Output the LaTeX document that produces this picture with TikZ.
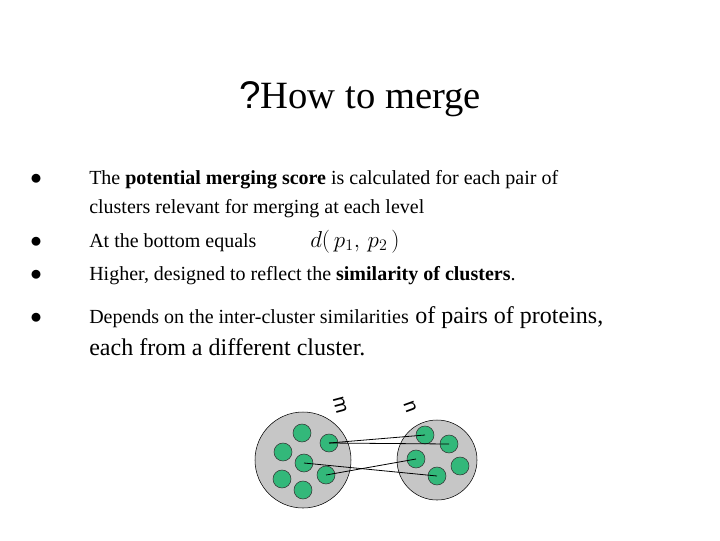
\documentclass[tikz,border=0pt]{standalone}
\usepackage{fontspec}
\setmainfont{Liberation Serif}
\newfontfamily\serifr{Liberation Serif}
\newfontfamily\sansq{Liberation Sans}
\begin{document}
\begin{tikzpicture}[x=0.75pt,y=-0.75pt,
  txt/.style={anchor=base west,inner sep=0pt,font=\serifr\fontsize{15}{18}\selectfont},
  big/.style={anchor=base west,inner sep=0pt,scale=1.2,font=\serifr\fontsize{15}{18}\selectfont},
  clus/.style={circle,draw=black,fill=gray!45,inner sep=0pt},
  prot/.style={circle,draw=black!80,fill=teal!70!green!80,minimum size=13.5pt,inner sep=0pt},
  link/.style={black,line width=0.6pt}]
\useasboundingbox (0,0) rectangle (720,540);
\node[anchor=base,inner sep=0pt,scale=1.93,font=\fontsize{15}{18}\selectfont] (title) at (360,108) {{\sansq ?}\serifr How to merge};
\foreach \y/\n in {184/b1,247/b2,280/b3,323/b4}{\node[txt,scale=1.2] (\n) at (30,\y) {$\bullet$};}
\node[txt] (t1) at (89,184) {The \textbf{potential merging score} is calculated for each pair of};
\node[txt] (t1b) at (89,213) {clusters relevant for merging at each level};
\node[txt] (t2) at (89,247) {At the bottom equals};
\node[anchor=base west,inner sep=0pt,font=\fontsize{17}{20}\selectfont] (f) at (310,247) {$d(\,p_1,\,p_2\,)$};
\node[txt] (t3) at (89,280) {Higher, designed to reflect the \textbf{similarity of clusters}.};
\node[txt] (t4) at (89,323) {Depends on the inter-cluster similarities};
\node[big] (t4c) at (t4.base east) {\ of pairs of proteins,};
\node[big] (t4b) at (89,355) {each from a different cluster.};
\node[clus,minimum size=72pt] (L) at (303,460) {};
\node[clus,minimum size=60pt] (R) at (437,460) {};
\node[rotate=-75,font=\sansq\fontsize{15}{18}\selectfont] (m) at (340,405) {m};
\node[rotate=-70,font=\sansq\fontsize{15}{18}\selectfont] (n) at (410,407) {n};
\foreach \p/\x/\y in {l1/302/433,l2/283/452,l3/329/443,l4/304/463,l5/282/479,l6/326/475,l7/303/490,
  r1/425/435,r2/449/444,r3/416/459,r4/460/466,r5/437/476}{\node[prot] (\p) at (\x,\y) {};}
\draw[link] (l3.center) -- (r1.center);
\draw[link] (l3.center) -- (r2.center);
\draw[link] (l4.center) -- (r5.center);
\draw[link] (l6.center) -- (r3.center);
\end{tikzpicture}
\end{document}
